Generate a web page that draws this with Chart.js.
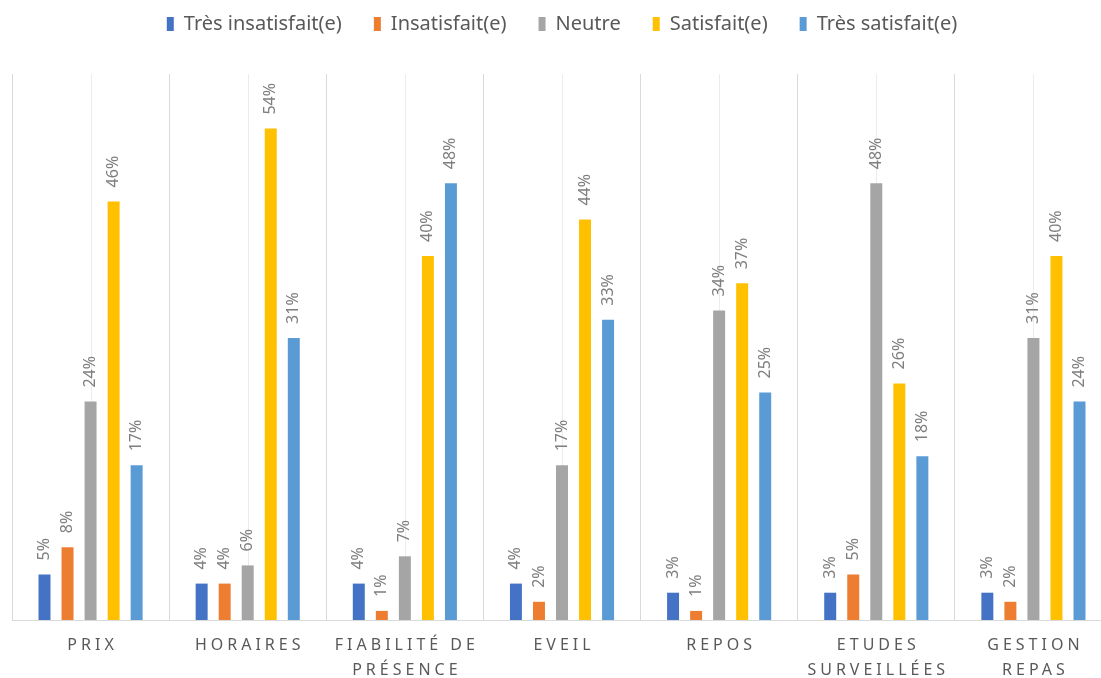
<!DOCTYPE html>
<html>
<head>
<meta charset="utf-8">
<script src="https://cdn.jsdelivr.net/npm/chart.js@4"></script>
<style>
    html, body { margin: 0; padding: 0; background: #fff; overflow: hidden; }
    #wrap { width: 1132px; height: 678px; }
</style>
</head>
<body>
<div id="wrap"><canvas id="satisfactionChart"></canvas></div>
<script>
// Données (en %)
const categories = [['PRIX'], ['HORAIRES'], ['FIABILITÉ DE', 'PRÉSENCE'], ['EVEIL'], ['REPOS'], ['ETUDES', 'SURVEILLÉES'], ['GESTION', 'REPAS']];
const seriesNames = ['Très insatisfait(e)', 'Insatisfait(e)', 'Neutre', 'Satisfait(e)', 'Très satisfait(e)'];
const tresInsatisfait = [5, 4, 4, 4, 3, 3, 3];
const insatisfait = [8, 4, 1, 2, 1, 5, 2];
const neutre = [24, 6, 7, 17, 34, 48, 31];
const satisfait = [46, 54, 40, 44, 37, 26, 40];
const tresSatisfait = [17, 31, 48, 33, 25, 18, 24];

const colors = ['#4472C4', '#ED7D31', '#A5A5A5', '#FFC000', '#5B9BD5'];
const seriesValues = [tresInsatisfait, insatisfait, neutre, satisfait, tresSatisfait];

// Lignes verticales au centre de chaque catégorie
const centerLines = {
    id: 'centerLines',
    beforeDatasetsDraw(chart) {
        const { ctx, chartArea, scales } = chart;
        ctx.save();
        ctx.strokeStyle = '#ececec';
        ctx.lineWidth = 1;
        categories.forEach((c, i) => {
            const x = Math.round(scales.x.getPixelForValue(i)) + 0.5;
            ctx.beginPath();
            ctx.moveTo(x, chartArea.top);
            ctx.lineTo(x, chartArea.bottom);
            ctx.stroke();
        });
        ctx.restore();
    }
};

// Étiquettes de valeurs verticales au-dessus des barres
const barLabels = {
    id: 'barLabels',
    afterDatasetsDraw(chart) {
        const { ctx } = chart;
        ctx.save();
        ctx.font = '16px "Noto Sans"';
        ctx.fillStyle = '#7f7f7f';
        ctx.textAlign = 'left';
        ctx.textBaseline = 'middle';
        chart.data.datasets.forEach((ds, d) => {
            const meta = chart.getDatasetMeta(d);
            meta.data.forEach((bar, i) => {
                ctx.save();
                ctx.translate(bar.x, bar.y - 14);
                ctx.rotate(-Math.PI / 2);
                ctx.fillText(ds.data[i] + '%', 0, 0);
                ctx.restore();
            });
        });
        ctx.restore();
    }
};

// Libellés de catégories espacés sous l'axe
const categoryLabels = {
    id: 'categoryLabels',
    afterDraw(chart) {
        const { ctx, chartArea, scales } = chart;
        ctx.save();
        ctx.font = '16px "Noto Sans"';
        ctx.fillStyle = '#595959';
        ctx.textAlign = 'center';
        ctx.textBaseline = 'middle';
        ctx.letterSpacing = '4px';
        categories.forEach((lines, i) => {
            const x = scales.x.getPixelForValue(i) + 2;
            lines.forEach((line, k) => {
                ctx.fillText(line, x, chartArea.bottom + 25 + k * 25);
            });
        });
        ctx.restore();
    }
};

const ctx = document.getElementById('satisfactionChart');
new Chart(ctx.getContext('2d'), {
    type: 'bar',
    data: {
        labels: categories.map(c => c.join(' ')),
        datasets: seriesNames.map((name, s) => ({
            label: name,
            data: seriesValues[s],
            backgroundColor: colors[s],
            categoryPercentage: 0.733,
            barPercentage: 0.52
        }))
    },
    options: {
        responsive: true,
        maintainAspectRatio: false,
        animation: false,
        layout: {
            padding: { left: 12, right: 20, top: -18, bottom: 58 }
        },
        plugins: {
            legend: {
                position: 'top',
                weight: 1000,
                labels: {
                    boxWidth: 7,
                    boxHeight: 14,
                    padding: 32,
                    color: '#595959',
                    font: { family: '"Noto Sans"', size: 20 }
                }
            },
            // espace vide entre la légende et la zone du graphique
            subtitle: {
                display: true,
                text: '',
                weight: 100,
                font: { size: 10 },
                padding: { top: 0, bottom: 18 }
            },
            tooltip: { enabled: false }
        },
        scales: {
            x: {
                grid: {
                    display: true,
                    color: '#d9d9d9',
                    drawTicks: false
                },
                border: { display: true, color: '#d9d9d9' },
                ticks: { display: false }
            },
            y: {
                display: false,
                min: 0,
                max: 60
            }
        }
    },
    plugins: [centerLines, barLabels, categoryLabels]
});
</script>
</body>
</html>
